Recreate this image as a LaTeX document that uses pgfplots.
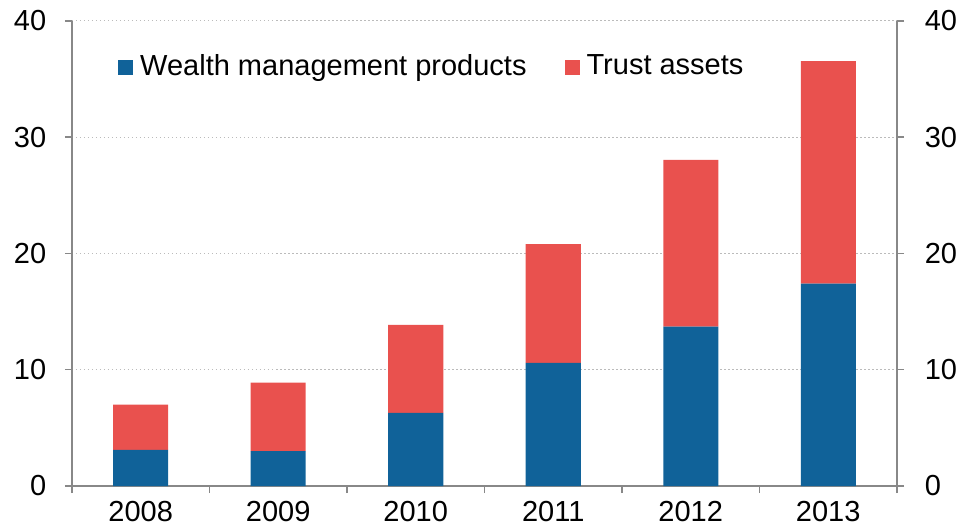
\documentclass[border=0pt]{standalone}
\usepackage{pgfplots}
\pgfplotsset{compat=1.18}
\usepackage{fontspec}
\setmainfont{Liberation Sans}
\definecolor{wmp}{HTML}{106299}
\definecolor{trust}{HTML}{E9514E}
\definecolor{axgray}{HTML}{888888}
\definecolor{gridgray}{HTML}{BBBBBB}
\begin{document}
\fontsize{29bp}{34bp}\selectfont
\begin{tikzpicture}
\useasboundingbox (-72bp,-44bp) rectangle (886bp,486bp);
\pgfplotsset{
  common/.style={
    at={(0,0)}, anchor=south west,
    scale only axis, width=825bp, height=465bp,
    xmin=-0.5, xmax=5.5, ymin=0, ymax=40,
    ytick={0,10,20,30,40},
    axis line style={axgray, line width=1.5bp},
    every tick/.style={axgray, line width=1.5bp},
    tick align=outside,
    major tick length=7bp, minor tick length=7bp,
    tick label style={font=\fontsize{29bp}{34bp}\selectfont, black},
    /pgf/number format/assume math mode=true,
  }
}
\begin{axis}[
  common,
  xtick={0,1,2,3,4,5},
  xticklabels={2008,2009,2010,2011,2012,2013},
  minor xtick={-0.5,0.5,1.5,2.5,3.5,4.5,5.5},
  major x tick style={draw=none},
  axis x line*=bottom, axis y line*=left,
  ymajorgrids,
  grid style={gridgray, line width=1bp, dash pattern=on 1.5bp off 2.5bp},
  yticklabel style={xshift=-9bp},
  xticklabel style={inner sep=0pt, yshift=-8bp},
  ybar stacked, bar width=55bp,
  legend style={at={(0.0558,0.901)}, anchor=west, draw=none, fill=none,
    inner sep=0pt, nodes={inner sep=0pt}, column sep=7bp,
    font=\fontsize{29bp}{34bp}\selectfont},
  legend columns=2,
  /tikz/every even column/.append style={column sep=38bp},
  legend image code/.code={\fill[#1] (0bp,-7.5bp) rectangle (15bp,7.5bp);},
]
\addplot[fill=wmp, draw=none] coordinates {(0,3.1) (1,3.0) (2,6.3) (3,10.6) (4,13.7) (5,17.4)};
\addplot[fill=trust, draw=none] coordinates {(0,3.9) (1,5.9) (2,7.55) (3,10.2) (4,14.35) (5,19.15)};
\legend{Wealth management products, Trust assets}
\end{axis}
\begin{axis}[
  common,
  axis x line=none, axis y line*=right,
  yticklabel style={xshift=11bp},
]
\addplot[draw=none] coordinates {(0,0)};
\end{axis}
\end{tikzpicture}
\end{document}
